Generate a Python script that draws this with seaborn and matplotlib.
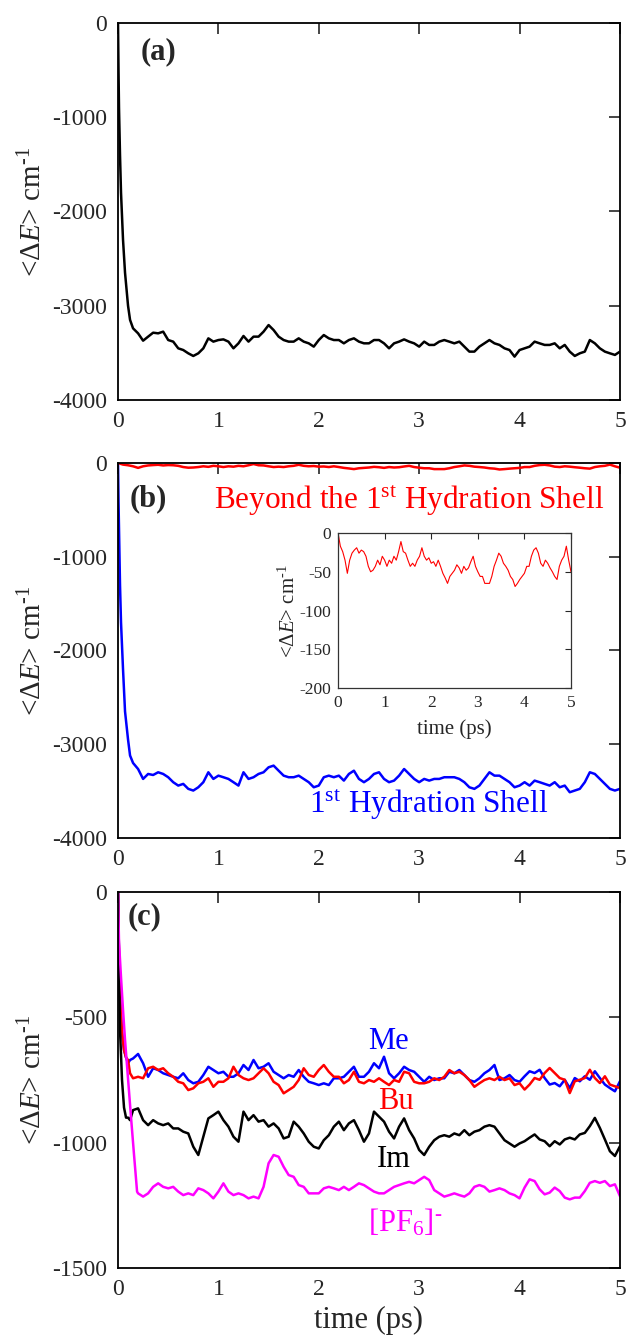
import numpy as np
import pandas as pd
import matplotlib
matplotlib.use('Agg')
import matplotlib.pyplot as plt
import seaborn as sns

# ---- data (time in ps, energy in cm^-1) ----
t_steady = np.linspace(0.2, 5.0, 97)

# panel (a): total
a_t0 = [0, 0.005, 0.01, 0.02, 0.03, 0.05, 0.07, 0.1, 0.12, 0.15]
a_v0 = [0, -500, -900, -1400, -1800, -2300, -2650, -3000, -3150, -3240]
a_vals = [-3293, -3371, -3328, -3286, -3293, -3275, -3364, -3381, -3452, -3470,
          -3505, -3533, -3505, -3452, -3346, -3381, -3364, -3357, -3381, -3452,
          -3399, -3321, -3381, -3328, -3328, -3275, -3205, -3258, -3328, -3364,
          -3381, -3381, -3346, -3381, -3399, -3434, -3364, -3311, -3346, -3364,
          -3364, -3399, -3364, -3346, -3381, -3399, -3399, -3364, -3364, -3399,
          -3452, -3399, -3381, -3357, -3381, -3399, -3434, -3381, -3416, -3416,
          -3381, -3364, -3381, -3399, -3381, -3434, -3487, -3487, -3434, -3399,
          -3364, -3399, -3416, -3452, -3470, -3540, -3470, -3452, -3434, -3381,
          -3399, -3416, -3416, -3399, -3452, -3416, -3487, -3533, -3505, -3487,
          -3364, -3399, -3452, -3487, -3505, -3522, -3487]

# panel (b): first hydration shell
b_t0 = [0, 0.005, 0.01, 0.02, 0.03, 0.05, 0.07, 0.1, 0.12, 0.15]
b_v0 = [0, -400, -700, -1300, -1700, -2200, -2650, -2950, -3120, -3200]
shell1 = [-3264, -3370, -3317, -3328, -3299, -3317, -3352, -3405, -3441, -3423,
          -3476, -3494, -3459, -3405, -3299, -3370, -3335, -3352, -3370, -3405,
          -3441, -3299, -3370, -3352, -3317, -3299, -3246, -3228, -3282, -3335,
          -3352, -3352, -3335, -3370, -3405, -3459, -3441, -3352, -3335, -3352,
          -3335, -3388, -3317, -3282, -3370, -3405, -3370, -3317, -3299, -3370,
          -3405, -3388, -3335, -3264, -3317, -3370, -3405, -3370, -3388, -3370,
          -3370, -3352, -3352, -3352, -3370, -3405, -3459, -3476, -3441, -3370,
          -3299, -3335, -3335, -3370, -3405, -3459, -3441, -3405, -3441, -3388,
          -3405, -3423, -3441, -3405, -3459, -3441, -3512, -3494, -3476, -3405,
          -3299, -3317, -3370, -3423, -3476, -3494, -3476]

# beyond the first shell (also shown in the inset)
beyond_t = np.linspace(0, 5.0, 101)
beyond = [0, -17, -24, -35, -52, -35, -26, -22, -19, -26,
          -22, -24, -30, -43, -50, -48, -43, -35, -41, -30,
          -35, -43, -35, -39, -30, -35, -24, -11, -24, -26,
          -35, -43, -39, -43, -35, -30, -19, -30, -35, -32,
          -39, -37, -43, -35, -43, -52, -58, -65, -56, -52,
          -48, -41, -45, -52, -43, -48, -45, -37, -30, -43,
          -50, -56, -56, -65, -65, -65, -56, -43, -35, -26,
          -30, -39, -43, -48, -56, -60, -69, -65, -60, -56,
          -52, -43, -43, -30, -22, -19, -26, -39, -43, -35,
          -39, -45, -50, -56, -60, -43, -35, -30, -17, -35,
          -50]

# panel (c): ion fragments
c_t0 = [0, 0.01, 0.02, 0.04, 0.06, 0.08, 0.1, 0.12, 0.15]
me_v0 = [0, -250, -420, -560, -630, -660, -683, -670, -664]
bu_v0 = [0, -250, -420, -560, -630, -660, -670, -723, -743]
im_v0 = [0, -300, -550, -750, -860, -900, -900, -910, -870]
pf_t0 = [0, 0.01, 0.03, 0.05, 0.07, 0.1, 0.13, 0.16, 0.19]
pf_v0 = [0, -200, -340, -470, -590, -745, -900, -1050, -1195]

me_vals = [-646, -683, -737, -703, -710, -723, -730, -737, -743, -723,
           -750, -763, -757, -730, -697, -710, -723, -717, -737, -737,
           -723, -690, -710, -670, -703, -697, -683, -717, -730, -743,
           -730, -737, -710, -737, -757, -763, -770, -763, -770, -743,
           -743, -737, -717, -697, -737, -737, -717, -683, -703, -657,
           -723, -743, -723, -697, -710, -717, -737, -757, -737, -750,
           -743, -743, -717, -723, -710, -730, -750, -757, -743, -723,
           -710, -690, -750, -743, -730, -750, -757, -735, -715, -722,
           -709, -742, -768, -762, -775, -749, -782, -742, -755, -735,
           -749, -715, -742, -768, -782, -795, -755]
bu_vals = [-737, -743, -703, -697, -710, -703, -723, -737, -757, -763,
           -790, -783, -763, -757, -743, -777, -757, -757, -743, -697,
           -730, -743, -750, -743, -723, -703, -723, -757, -770, -803,
           -790, -777, -750, -703, -730, -737, -710, -690, -717, -737,
           -737, -763, -750, -717, -757, -763, -750, -757, -743, -757,
           -770, -750, -757, -717, -723, -757, -763, -763, -757, -743,
           -750, -737, -710, -723, -717, -730, -750, -777, -763, -750,
           -743, -750, -737, -750, -743, -770, -763, -788, -768, -742,
           -749, -722, -702, -722, -742, -749, -802, -755, -749, -742,
           -709, -742, -762, -735, -768, -775, -782]
im_vals = [-863, -910, -930, -910, -923, -930, -923, -943, -943, -956,
           -963, -1016, -1049, -976, -903, -890, -876, -910, -936, -976,
           -996, -876, -910, -890, -916, -910, -936, -923, -943, -983,
           -976, -916, -936, -963, -996, -1016, -1023, -990, -970, -936,
           -916, -950, -923, -910, -950, -996, -963, -876, -896, -916,
           -956, -983, -936, -903, -950, -983, -1029, -1049, -1016, -990,
           -976, -970, -976, -963, -970, -950, -970, -956, -950, -936,
           -930, -936, -963, -990, -1003, -1016, -1003, -994, -980, -967,
           -987, -994, -1014, -994, -1007, -987, -980, -987, -967, -961,
           -934, -901, -941, -987, -1034, -1053, -1014]
pf_vals = [-1202, -1215, -1202, -1176, -1162, -1176, -1182, -1176, -1195, -1209,
           -1202, -1209, -1182, -1189, -1202, -1222, -1195, -1162, -1195, -1209,
           -1202, -1209, -1222, -1215, -1222, -1176, -1082, -1049, -1056, -1096,
           -1129, -1136, -1169, -1176, -1202, -1202, -1202, -1182, -1176, -1182,
           -1189, -1176, -1189, -1176, -1162, -1169, -1182, -1195, -1202, -1202,
           -1189, -1176, -1169, -1162, -1156, -1162, -1149, -1136, -1149, -1189,
           -1202, -1215, -1209, -1202, -1209, -1215, -1202, -1176, -1169, -1176,
           -1195, -1189, -1182, -1189, -1202, -1209, -1222, -1179, -1146, -1153,
           -1186, -1206, -1199, -1179, -1193, -1219, -1226, -1219, -1219, -1193,
           -1160, -1153, -1160, -1153, -1173, -1166, -1213]

x_ticks = [0, 1, 2, 3, 4, 5]


def series(t0, v0, vals):
    return pd.DataFrame({'t': np.concatenate([t0, t_steady]),
                         'E': np.concatenate([v0, vals])})


sns.set_style('white')
plt.rcParams['font.family'] = ['Liberation Serif', 'DejaVu Serif']
plt.rcParams['mathtext.fontset'] = 'custom'
plt.rcParams['mathtext.rm'] = 'Liberation Serif'
plt.rcParams['mathtext.it'] = 'Liberation Serif:italic'
plt.rcParams['mathtext.bf'] = 'Liberation Serif:bold'
plt.rcParams['axes.unicode_minus'] = False

ylab = '<$\\mathit{\u0394E}$> cm$^{\u20101}$'

fig = plt.figure(figsize=(6.29, 13.44), dpi=100)
ax_a = fig.add_axes([0.1876, 0.7024, 0.798, 0.2805])
ax_b = fig.add_axes([0.1876, 0.3765, 0.798, 0.2790])
ax_c = fig.add_axes([0.1876, 0.0565, 0.798, 0.2798])


def style(ax, yticks, ylim):
    ax.set_xlim(0, 5)
    ax.set_ylim(*ylim)
    ax.set_xticks(x_ticks)
    ax.set_yticks(yticks)
    ax.tick_params(direction='in', top=True, right=True, length=8, width=1.2,
                   labelsize=17, pad=8)
    for s in ax.spines.values():
        s.set_linewidth(1.3)
        s.set_color('black')
    ax.set_xlabel('')
    ax.set_ylabel(ylab, fontsize=21)
    ax.yaxis.set_label_coords(-0.141, 0.5)


# (a)
sns.lineplot(data=series(a_t0, a_v0, a_vals), x='t', y='E', ax=ax_a,
             color='black', lw=1.8)
style(ax_a, [0, -1000, -2000, -3000, -4000], (-4000, 0))
ax_a.text(0.4, -310, '(a)', fontsize=22, fontweight='bold', ha='center', va='center')

# (b)
sns.lineplot(data=series(b_t0, b_v0, shell1), x='t', y='E', ax=ax_b,
             color='#0000ff', lw=1.8)
sns.lineplot(x=beyond_t, y=beyond, ax=ax_b, color='#ff0000', lw=1.8)
style(ax_b, [0, -1000, -2000, -3000, -4000], (-4000, 0))
ax_b.text(0.3, -380, '(b)', fontsize=22, fontweight='bold', ha='center', va='center')
ax_b.text(2.9, -400, r'Beyond the 1$^{\mathrm{st}}$ Hydration Shell', color='#ff0000',
          fontsize=22.5, ha='center', va='center')
ax_b.text(3.09, -3650, r'1$^{\mathrm{st}}$ Hydration Shell', color='#0000ff',
          fontsize=22.5, ha='center', va='center')

# inset
ax_in = fig.add_axes([0.5374, 0.4881, 0.3704, 0.1153])
sns.lineplot(data=series(b_t0, b_v0, shell1), x='t', y='E', ax=ax_in,
             color='#0000ff', lw=1.0)
sns.lineplot(x=beyond_t, y=beyond, ax=ax_in, color='#ff0000', lw=0.8)
ax_in.set_xlim(0, 5)
ax_in.set_ylim(-200, 0)
ax_in.set_xticks(x_ticks)
ax_in.set_yticks([0, -50, -100, -150, -200])
ax_in.tick_params(direction='in', top=True, right=True, length=4, width=0.8,
                  labelsize=12.5, pad=5)
for s in ax_in.spines.values():
    s.set_linewidth(0.9)
    s.set_color('#333333')
ax_in.set_xlabel('time (ps)', fontsize=15)
ax_in.set_ylabel(ylab, fontsize=15)
ax_in.yaxis.set_label_coords(-0.165, 0.5)
ax_in.xaxis.set_label_coords(0.5, -0.2)

# (c)
sns.lineplot(data=series(c_t0, me_v0, me_vals), x='t', y='E', ax=ax_c,
             color='#0000ff', lw=1.8)
sns.lineplot(data=series(c_t0, bu_v0, bu_vals), x='t', y='E', ax=ax_c,
             color='#ff0000', lw=1.8)
sns.lineplot(data=series(c_t0, im_v0, im_vals), x='t', y='E', ax=ax_c,
             color='black', lw=1.8)
sns.lineplot(data=series(pf_t0, pf_v0, pf_vals), x='t', y='E', ax=ax_c,
             color='#ff00ff', lw=1.8)
style(ax_c, [0, -500, -1000, -1500], (-1500, 0))
ax_c.set_xlabel('time (ps)', fontsize=22)
ax_c.text(0.26, -100, '(c)', fontsize=22, fontweight='bold', ha='center', va='center')
ax_c.text(2.69, -596, 'Me', color='#0000ff', fontsize=22, ha='center', va='center')
ax_c.text(2.77, -835, 'Bu', color='#ff0000', fontsize=22, ha='center', va='center')
ax_c.text(2.75, -1067, 'Im', color='black', fontsize=22, ha='center', va='center')
ax_c.text(2.86, -1320, '[PF$_6$]$^{\u2010}$', color='#ff00ff', fontsize=22,
          ha='center', va='center')

fig.savefig('out.png', dpi=100)
